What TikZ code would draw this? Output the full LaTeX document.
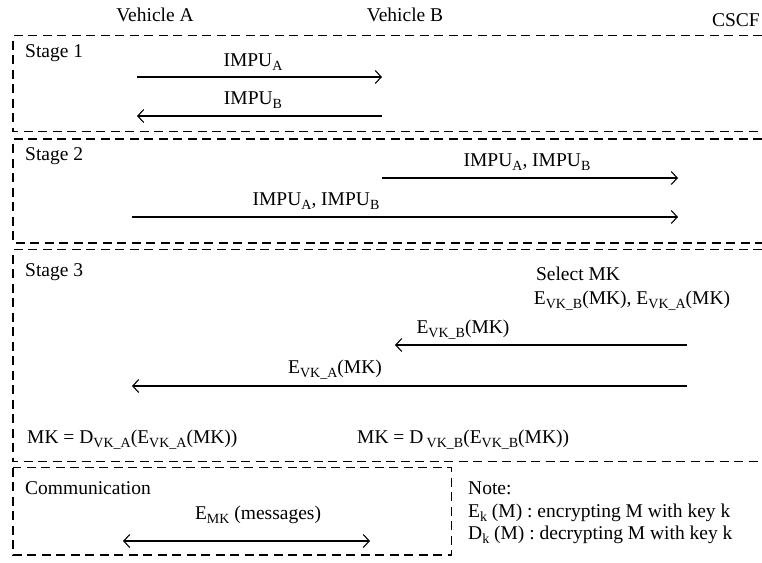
\documentclass[tikz,border=0pt]{standalone}
\usepackage{fontspec}
\setmainfont{Liberation Serif}
\usetikzlibrary{arrows.meta}
\newcommand\sbs[1]{\raisebox{-4.5pt}{\fontsize{14}{14}\selectfont #1}}
\begin{document}
\begin{tikzpicture}[x=1pt,y=-1pt,
  font=\fontsize{19.5}{23}\selectfont,
  dbox/.style={line width=1.1pt, dash pattern=on 9pt off 5.5pt},
  msg/.style={line width=1.1pt, -{Straight Barb[length=6pt,width=13pt,line width=1.1pt]}},
  dmsg/.style={line width=1.1pt, {Straight Barb[length=6pt,width=13pt,line width=1.1pt]}-{Straight Barb[length=6pt,width=13pt,line width=1.1pt]}},
  txt/.style={inner sep=0pt, anchor=base},
  ltxt/.style={inner sep=0pt, anchor=base west}]
\useasboundingbox (0,0) rectangle (762,562);

% headers
\node[txt] (va) at (155,21) {Vehicle A};
\node[txt] (vb) at (405,21) {Vehicle B};
\node[inner sep=0pt, anchor=base east] (cscf) at (760,27) {CSCF};

% stage frames (open on the right)
\draw[dbox] (762,35.5) -- (13,35.5) -- (13,131.5) -- (762,131.5);
\draw[dbox] (762,139) -- (13,139) -- (13,243) -- (762,243);
\draw[dbox] (762,249.5) -- (13,249.5) -- (13,461.5) -- (762,461.5);
\draw[dbox] (13,467.5) rectangle (451.5,555);

% stage 1
\node[ltxt] (s1) at (25,57) {Stage 1};
\coordinate (s1a) at (137,77);  \coordinate (s1b) at (382,77);
\coordinate (s1c) at (382,116); \coordinate (s1d) at (137,116);
\draw[msg] (s1a) -- (s1b);
\draw[msg] (s1c) -- (s1d);
\node[txt] (m1) at (253,66) {IMPU\sbs{A}};
\node[txt] (m2) at (253,104) {IMPU\sbs{B}};

% stage 2
\node[ltxt] (s2) at (25,160) {Stage 2};
\coordinate (s2a) at (382,178); \coordinate (s2b) at (678,178);
\coordinate (s2c) at (132,217); \coordinate (s2d) at (678,217);
\draw[msg] (s2a) -- (s2b);
\draw[msg] (s2c) -- (s2d);
\node[txt] (m3) at (527,166) {IMPU\sbs{A}, IMPU\sbs{B}};
\node[txt] (m4) at (316,205) {IMPU\sbs{A}, IMPU\sbs{B}};

% stage 3
\node[ltxt] (s3) at (25,276) {Stage 3};
\node[txt] (sel) at (578,280) {Select MK};
\node[txt] (enc) at (632,304) {E\sbs{VK\_B}(MK), E\sbs{VK\_A}(MK)};
\coordinate (s3a) at (687,345); \coordinate (s3b) at (395,345);
\coordinate (s3c) at (687,386); \coordinate (s3d) at (132,386);
\draw[msg] (s3a) -- (s3b);
\draw[msg] (s3c) -- (s3d);
\node[txt] (m5) at (463,333) {E\sbs{VK\_B}(MK)};
\node[txt] (m6) at (335,373) {E\sbs{VK\_A}(MK)};
\node[ltxt] (dA) at (27,443) {MK = D\sbs{VK\_A}(E\sbs{VK\_A}(MK))};
\node[ltxt] (dB) at (357,443) {MK = D\,\sbs{VK\_B}(E\sbs{VK\_B}(MK))};

% communication
\node[ltxt] (com) at (25,494) {Communication};
\coordinate (ca) at (123,541); \coordinate (cb) at (370,541);
\draw[dmsg] (ca) -- (cb);
\node[txt] (m7) at (258,519) {E\sbs{MK} (messages)};

% note
\node[ltxt] (n0) at (468,494) {Note:};
\node[ltxt] (n1) at (468,517) {E\sbs{k} (M) : encrypting M with key k};
\node[ltxt] (n2) at (468,539) {D\sbs{k} (M) : decrypting M with key k};
\end{tikzpicture}
\end{document}
